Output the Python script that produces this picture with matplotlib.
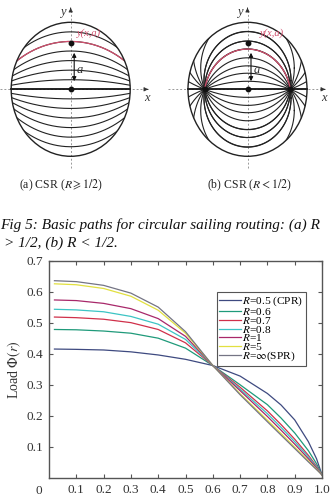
import numpy as np
import matplotlib
matplotlib.use("Agg")
import matplotlib.pyplot as plt
from matplotlib.patches import Ellipse

plt.rcParams['font.family'] = ['Liberation Serif', 'DejaVu Serif']
plt.rcParams['mathtext.fontset'] = 'stix'

# ---- chart data ----
r = [0.02, 0.1, 0.2, 0.3, 0.4, 0.5, 0.6, 0.7, 0.8, 0.85, 0.9, 0.95, 0.98, 1.0]
load_05 = [0.415, 0.414, 0.412, 0.406, 0.396, 0.382, 0.362, 0.328, 0.272, 0.235, 0.187, 0.117, 0.062, 0.01]
load_06 = [0.478, 0.477, 0.473, 0.466, 0.450, 0.418, 0.362, 0.300, 0.236, 0.193, 0.145, 0.088, 0.046, 0.01]
load_07 = [0.518, 0.516, 0.511, 0.500, 0.478, 0.435, 0.362, 0.292, 0.216, 0.172, 0.125, 0.073, 0.038, 0.01]
load_08 = [0.543, 0.541, 0.535, 0.520, 0.495, 0.446, 0.362, 0.286, 0.207, 0.163, 0.117, 0.068, 0.035, 0.01]
load_1 = [0.573, 0.571, 0.562, 0.545, 0.513, 0.456, 0.362, 0.281, 0.198, 0.154, 0.109, 0.062, 0.032, 0.01]
load_5 = [0.625, 0.622, 0.610, 0.585, 0.540, 0.466, 0.362, 0.271, 0.186, 0.143, 0.099, 0.055, 0.028, 0.01]
load_inf = [0.635, 0.632, 0.620, 0.595, 0.550, 0.471, 0.362, 0.268, 0.181, 0.138, 0.095, 0.052, 0.027, 0.01]

series = [load_05, load_06, load_07, load_08, load_1, load_5, load_inf]
labels = [r'$R$=0.5 (CPR)', r'$R$=0.6', r'$R$=0.7', r'$R$=0.8', r'$R$=1', r'$R$=5', r'$R$=$\infty$(SPR)']
colors = ['#3e4a80', '#1f9a7a', '#d0304a', '#3cc4c4', '#a8286a', '#e2e040', '#747484']

xticks = [0.1, 0.2, 0.3, 0.4, 0.5, 0.6, 0.7, 0.8, 0.9, 1.0]
yticks = [0.1, 0.2, 0.3, 0.4, 0.5, 0.6, 0.7]

# ---- diagram parameters ----
apex_a = [k / 7 for k in range(1, 7)]          # apex heights, panel (a)
apex_b = [0.12, 0.24, 0.35, 0.47, 0.6, 0.72, 0.86]  # apex heights, panel (b)
focus_a = 1.31
focus_b = 0.72
red_a = 5 / 7
red_b = 0.6

fig = plt.figure(figsize=(3.33, 4.98), dpi=100)

# overlay in pixel coordinates for the top diagram and captions
ov = fig.add_axes([0, 0, 1, 1])
ov.set_xlim(0, 333)
ov.set_ylim(498, 0)
ov.axis('off')
ov.patch.set_alpha(0)

RX, RY = 59.5, 67.0
CY = 89.3
RED = '#d2506e'


def draw_panel(cx, d, apexes, red_apex, xl, xr):
    ell = Ellipse((cx, CY), 2 * RX, 2 * RY, transform=ov.transData)
    # dotted axes
    ov.plot([xl, xr], [CY, CY], color='#999999', lw=0.7, ls=(0, (2, 2)))
    ov.plot([cx, cx], [168, 10], color='#999999', lw=0.7, ls=(0, (2, 2)))
    ov.annotate('', xy=(xr + 5, CY), xytext=(xr - 1, CY),
                arrowprops=dict(arrowstyle='-|>', color='#333333', lw=0.6, mutation_scale=6))
    ov.annotate('', xy=(cx, 5), xytext=(cx, 11),
                arrowprops=dict(arrowstyle='-|>', color='#333333', lw=0.6, mutation_scale=6))
    ov.text(xr + 1, CY + 9, 'x', fontsize=9, style='italic', ha='center', va='center', color='#333333')
    ov.text(cx - 8, 12, 'y', fontsize=9, style='italic', ha='center', va='center', color='#333333')

    t = np.linspace(0, 2 * np.pi, 3000)
    for s in [1, -1]:
        for a in apexes:
            c = (a * a - d * d) / (2 * a)
            rho = a - c
            u = rho * np.cos(t)
            v = s * (c + rho * np.sin(t))
            ln, = ov.plot(cx + RX * u, CY - RY * v, color='#222222', lw=0.8, zorder=2)
            ln.set_clip_path(ell)
            if s == 1 and abs(a - red_apex) < 1e-6:
                keep = (v >= 0) & (np.abs(u) <= d)
                uu = np.where(keep, u, np.nan)
                vv = np.where(keep, v, np.nan)
                lr, = ov.plot(cx + RX * uu, CY - RY * vv, color=RED, lw=0.9, zorder=3)
                lr.set_clip_path(ell)
    ov.plot([cx - RX, cx + RX], [CY, CY], color='#111111', lw=1.3, zorder=3)
    ov.add_patch(Ellipse((cx, CY), 2 * RX, 2 * RY, fill=False, ec='#222222', lw=1.0, zorder=3))


draw_panel(70.7, focus_a, apex_a, red_a, 0, 146)
draw_panel(247.5, focus_b, apex_b, red_b, 168, 323)

# markers, arrows, labels
for cx, d in [(70.7, None), (247.5, focus_b)]:
    ov.plot([cx, cx], [CY, 42.7], 'o', color='#111111', ms=3.2, zorder=4, ls='none')
    ov.annotate('', xy=(cx + 3.5, 50), xytext=(cx + 3.5, 84),
                arrowprops=dict(arrowstyle='<|-|>', color='#111111', lw=0.8, mutation_scale=6), zorder=4)
    ov.text(cx + 9, 70, 'a', fontsize=9, style='italic', ha='center', va='center', color='#333333')
    if d is not None:
        ov.plot([cx - RX * d, cx + RX * d], [CY, CY], 'o', color='#111111', ms=3.2, zorder=4, ls='none')
ov.text(89, 33, 'y(x,a)', fontsize=7.5, style='italic', ha='center', va='center', color=RED)
ov.text(272, 33, 'y(x,a)', fontsize=7.5, style='italic', ha='center', va='center', color=RED)

ov.text(61, 185, r'(a) CSR ($R\geqslant1/2$)', fontsize=8.5, ha='center', va='center', color='#222222')
ov.text(249, 185, r'(b) CSR ($R<1/2$)', fontsize=8.5, ha='center', va='center', color='#222222')
ov.text(0, 225, 'Fig 5: Basic paths for circular sailing routing: (a) R', fontsize=11,
        style='italic', ha='left', va='center', color='#111111')
ov.text(4, 243, '> 1/2, (b) R < 1/2.', fontsize=11, style='italic', ha='left', va='center', color='#111111')

# ---- line chart ----
ax = fig.add_axes([49 / 333, 20 / 498, 273 / 333, 217.5 / 498])
for ys, lab, col in zip(series, labels, colors):
    ax.plot(r, ys, color=col, lw=0.9, label=lab)

ax.set_xlim(0, 1.0)
ax.set_ylim(0, 0.7)
ax.set_xticks(xticks)
ax.set_xticklabels(['%.1f' % v for v in xticks])
ax.set_yticks(yticks)
ax.set_yticklabels(['%.1f' % v for v in yticks])
ax.tick_params(direction='in', top=True, right=True, length=3, width=0.8, colors='#555555',
               labelcolor='#333333', labelsize=9.5, pad=4)
for sp in ax.spines.values():
    sp.set_color('#555555')
    sp.set_linewidth(1.0)
ax.text(-0.025, -0.03, '0', transform=ax.transAxes, fontsize=9.5, color='#333333', ha='right', va='top')
ax.set_ylabel(r'Load $\mathit{\Phi}(r)$', fontsize=10, color='#333333', labelpad=3)
ax.set_xlabel(r'$r$', fontsize=11, color='#333333', labelpad=0)

leg = ax.legend(loc='upper left', bbox_to_anchor=(167.5 / 273, (478 - 292) / 217.5), fontsize=8.2,
                labelspacing=-0.2, handlelength=1.9, handletextpad=0.1, borderpad=0.25,
                borderaxespad=0, fancybox=False, framealpha=1)
leg.get_frame().set_edgecolor('#555555')
leg.get_frame().set_linewidth(0.8)

fig.savefig('out.png', dpi=100)
